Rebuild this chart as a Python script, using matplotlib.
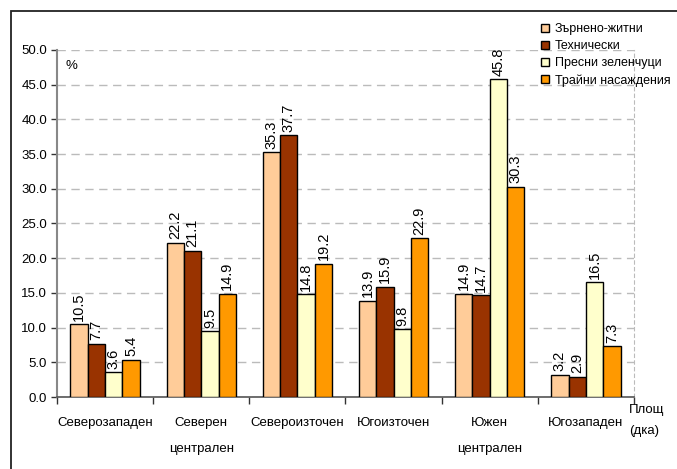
import numpy as np
import matplotlib.pyplot as plt
from matplotlib.patches import Rectangle

plt.rcParams['font.family'] = ['Liberation Sans', 'DejaVu Sans']

regions = ["Северозападен", "Северен\nцентрален", "Североизточен",
           "Югоизточен", "Южен\nцентрален", "Югозападен"]
series_names = ["Зърнено-житни", "Технически", "Пресни зеленчуци", "Трайни насаждения"]
grain = [10.5, 22.2, 35.3, 13.9, 14.9, 3.2]
technical = [7.7, 21.1, 37.7, 15.9, 14.7, 2.9]
vegetables = [3.6, 9.5, 14.8, 9.8, 45.8, 16.5]
orchards = [5.4, 14.9, 19.2, 22.9, 30.3, 7.3]
colors = ["#FFCC99", "#993300", "#FFFFCC", "#FF9900"]

fig = plt.figure(figsize=(6.77, 4.69), dpi=100)
ax = fig.add_axes([57 / 677, 1 - 397 / 469, 577 / 677, 347 / 469])

# outer frame
fig.patches.append(Rectangle((11 / 677, -0.1), 1.2, 1 - 11 / 469 + 0.1,
                             transform=fig.transFigure, fill=False,
                             edgecolor="#222222", linewidth=1.3))

x = np.arange(len(regions))
width = 0.18
all_series = [grain, technical, vegetables, orchards]
for i, (vals, col, name) in enumerate(zip(all_series, colors, series_names)):
    pos = x + (i - 1.5) * width
    ax.bar(pos, vals, width, color=col, edgecolor="black", linewidth=1.0,
           label=name, zorder=3)
    for xb, v in zip(pos, vals):
        ax.text(xb, v + 0.5, f"{v:.1f}", rotation=90, ha="center", va="bottom",
                fontsize=10.5, zorder=4)

ax.set_xlim(-0.5, len(regions) - 0.5)
ax.set_ylim(0, 50)
ticks = np.arange(0, 50.1, 5)
ax.set_yticks(ticks)
ax.set_yticklabels([f"{t:.1f}" for t in ticks], fontsize=9.5)
ax.yaxis.grid(True, color="#BBBBBB", linestyle=(0, (6, 4)), linewidth=1.0, zorder=0)

ax.set_xticks(np.arange(-0.5, len(regions)))
ax.set_xticklabels([])
ax.tick_params(axis="x", length=5, width=1.0, color="#333333")
ax.tick_params(axis="y", length=4, width=1.0, color="#333333", pad=3)
for xi, lab in zip(x, regions):
    ax.text(xi, -2.9, lab, ha="center", va="top", fontsize=9.5, linespacing=2.5)

ax.text(5.45, -1.0, "Площ\n(дка)", ha="left", va="top", fontsize=9.5, linespacing=2.0)
ax.text(-0.35, 48.5, "%", ha="center", va="top", fontsize=9.5)

ax.spines["top"].set_visible(False)
ax.spines["right"].set_color("#BBBBBB")
ax.spines["right"].set_linestyle((0, (3, 3)))
ax.spines["left"].set_color("#888888")
ax.spines["left"].set_linewidth(1.5)
ax.spines["bottom"].set_color("#555555")
ax.spines["bottom"].set_linewidth(1.2)

handles = [Rectangle((0, 0), 1, 1, facecolor=c, edgecolor="black") for c in colors]
fig.legend(handles, series_names, loc="upper left", bbox_to_anchor=(535 / 677, 1 - 17 / 469),
           frameon=False, fontsize=9, handlelength=0.6, handleheight=0.6,
           handletextpad=0.5, labelspacing=0.4, borderpad=0)

fig.savefig("out.png", dpi=100)
